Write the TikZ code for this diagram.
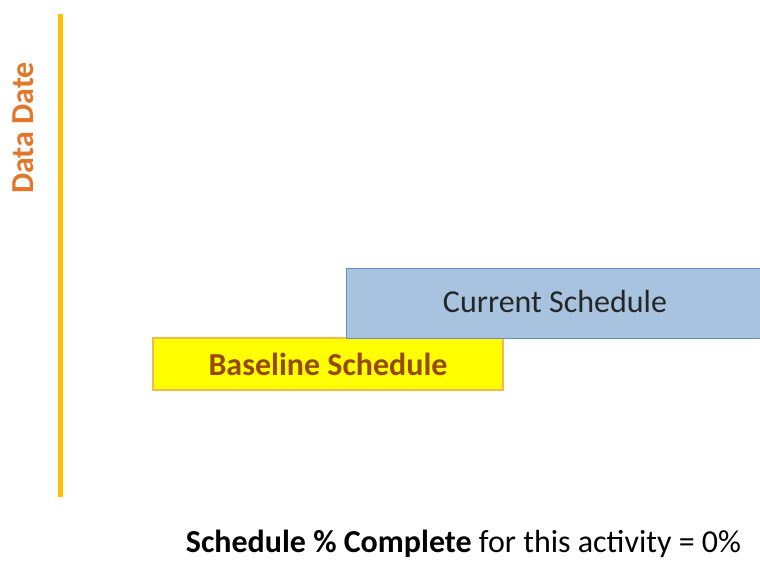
\documentclass[tikz,border=0pt]{standalone}
\usepackage{fontspec}
\setmainfont{Carlito}
\definecolor{ddline}{HTML}{FFC000}
\definecolor{ddtext}{HTML}{E4762A}
\definecolor{curfill}{HTML}{A7C3E0}
\definecolor{curdraw}{HTML}{6A8FBF}
\definecolor{basefill}{HTML}{FFFF00}
\definecolor{basedraw}{HTML}{F5B94A}
\definecolor{basetext}{HTML}{984807}
\definecolor{darktext}{HTML}{262626}
\tikzset{
  bigtext/.style={font=\fontsize{32}{36}\selectfont},
  bigbold/.style={font=\fontsize{32}{36}\selectfont\bfseries},
  barbox/.style={minimum height=#1, inner sep=0pt, line width=1.2pt},
}
\begin{document}
\begin{tikzpicture}[x=1pt,y=-1pt]
\useasboundingbox (0,0) rectangle (760,560);
\coordinate (ltop) at (60,14);
\coordinate (lbot) at (60,497);
\draw[ddline, line width=5pt] (ltop) -- (lbot);
\node[bigbold, text=ddtext, rotate=90] (dd) at (23,128) {Data Date};
\node[barbox=52pt, minimum width=350pt, fill=basefill, draw=basedraw] (base) at (328,364) {};
\node[bigbold, text=basetext] (basetxt) at (328,364) {Baseline Schedule};
\node[barbox=70pt, minimum width=420pt, fill=curfill, draw=curdraw, anchor=north west] (cur) at (346,268) {};
\node[bigtext, text=darktext] (curtxt) at (555,302) {Current Schedule};
\node[bigtext, text=black] (note) at (463.5,544) {\textbf{Schedule \% Complete} for this activity = 0\%};
\end{tikzpicture}
\end{document}
